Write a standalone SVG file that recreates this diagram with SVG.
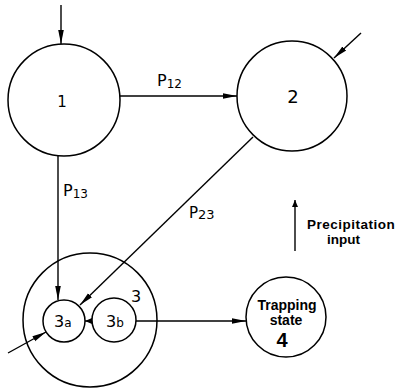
<svg xmlns="http://www.w3.org/2000/svg" width="397" height="388" viewBox="0 0 397 388">
<defs>
<style>
.n{fill:none;stroke:#000;stroke-width:1.5}
.c{fill:none;stroke:#000;stroke-width:1.4}
.t{font-family:"DejaVu Sans","Liberation Sans",sans-serif;fill:#000}
.b{font-family:"Liberation Sans",Arial,sans-serif;font-weight:bold;fill:#000}
</style>
<marker id="ah" markerUnits="userSpaceOnUse" markerWidth="16" markerHeight="8" refX="14" refY="4" orient="auto">
<path d="M0,1.2 L14,4 L0,6.8 Z" fill="#000"/>
</marker>
<marker id="as" markerUnits="userSpaceOnUse" markerWidth="8" markerHeight="6" refX="7" refY="3" orient="auto">
<path d="M0,0 L7,3 L0,6 Z" fill="#000"/>
</marker>
</defs>
<rect width="397" height="388" fill="#fff"/>
<g id="connectors">
<line class="c" x1="61" y1="5" x2="61" y2="44" marker-end="url(#ah)"/>
<line class="c" x1="120" y1="96" x2="237" y2="96" marker-end="url(#ah)"/>
<line class="c" x1="361" y1="33" x2="334" y2="58" marker-end="url(#ah)"/>
<line class="c" x1="253" y1="137" x2="80" y2="305" marker-end="url(#ah)"/>
<line class="c" x1="58" y1="156" x2="58" y2="300" marker-end="url(#ah)"/>
<line class="c" x1="8" y1="353" x2="46" y2="332" marker-end="url(#ah)"/>
<line class="c" x1="92" y1="321" x2="85" y2="321" marker-end="url(#as)"/>
<line class="c" x1="136" y1="321" x2="246" y2="321" marker-end="url(#ah)"/>
<line class="c" x1="295" y1="251" x2="295" y2="200" marker-end="url(#as)"/>
<text class="t" x="157" y="86" font-size="16">P<tspan font-size="12" y="88">12</tspan></text>
<text class="t" x="63" y="196" font-size="16">P<tspan font-size="12" y="198">13</tspan></text>
<text class="t" x="189" y="218" font-size="15">P<tspan font-size="13" y="219">23</tspan></text>
</g>
<g id="node1">
<circle class="n" cx="64" cy="100" r="56"/>
<text class="t" x="62" y="107" font-size="15" text-anchor="middle">1</text>
</g>
<g id="node2">
<circle class="n" cx="292" cy="96" r="55"/>
<text class="t" x="293" y="103" font-size="18" text-anchor="middle">2</text>
</g>
<g id="node3">
<circle class="n" cx="90" cy="320" r="67"/>
<text class="t" x="136" y="302" font-size="16" text-anchor="middle">3</text>
</g>
<g id="node3a">
<circle class="n" cx="64" cy="321" r="21"/>
<text class="t" x="54" y="327" font-size="16">3<tspan font-size="12">a</tspan></text>
</g>
<g id="node3b">
<circle class="n" cx="114" cy="320" r="22"/>
<text class="t" x="106" y="327" font-size="16">3<tspan font-size="12">b</tspan></text>
</g>
<g id="node4">
<circle class="n" cx="286" cy="317" r="40"/>
<text class="b" x="287" y="310" font-size="14" text-anchor="middle">Trapping</text>
<text class="b" x="286" y="325" font-size="14" text-anchor="middle">state</text>
<text class="b" x="282" y="347" font-size="20" text-anchor="middle">4</text>
</g>
<g id="legend">
<text class="b" x="307" y="229" font-size="13.5" letter-spacing="0.5">Precipitation</text>
<text class="b" x="327" y="244" font-size="13.5">input</text>
</g>
</svg>
